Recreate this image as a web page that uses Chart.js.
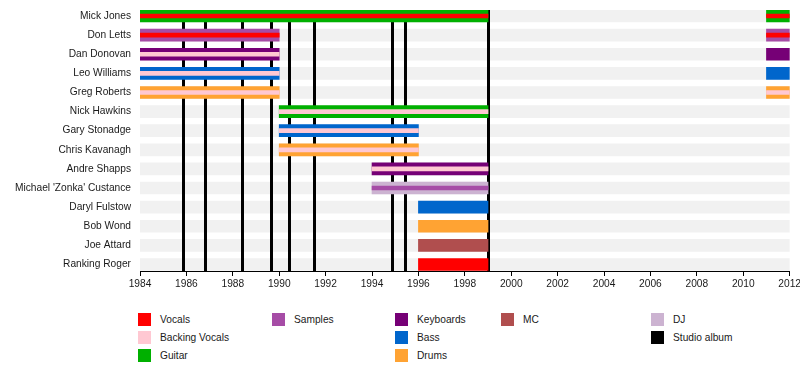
<!DOCTYPE html>
<html lang="en">
<head>
<meta charset="UTF-8">
<title>Big Audio Dynamite timeline</title>
<script src="https://cdn.jsdelivr.net/npm/chart.js@4/dist/chart.umd.min.js"></script>
<style>
  html, body { margin: 0; padding: 0; background: #fff; overflow: hidden; }
  body { font-family: "Liberation Sans", Arial, Helvetica, sans-serif; width: 800px; height: 365px; position: relative; }
  #wrap { position: absolute; left: 0; top: 0; width: 803px; height: 290px; }
  .legend { position: absolute; left: 0; top: 0; font-size: 10.2px; color: #1a1a1a; }
  .legend .item { position: absolute; white-space: nowrap; height: 13px; line-height: 13px; }
  .legend .sw { position: absolute; left: 0; top: 0; width: 13px; height: 13px; }
  .legend .lbl { position: absolute; left: 22px; top: 0; }
</style>
</head>
<body>
<div id="wrap"><canvas id="timeline" width="803" height="290"></canvas></div>
<div class="legend" id="legend"></div>

<script>
// band members, top to bottom
var members = ["Mick Jones", "Don Letts", "Dan Donovan", "Leo Williams", "Greg Roberts",
  "Nick Hawkins", "Gary Stonadge", "Chris Kavanagh", "Andre Shapps",
  "Michael 'Zonka' Custance", "Daryl Fulstow", "Bob Wond", "Joe Attard", "Ranking Roger"];

// roles and their colours
var roles = ["Vocals", "Backing Vocals", "Guitar", "Samples", "Keyboards", "Bass", "Drums", "MC", "DJ"];
var roleColors = ["#ff0000", "#ffc8d2", "#00b000", "#a64ca6", "#760076", "#0066cc", "#ffa333", "#b04e4e", "#ccb3d1"];

// periods: member index, start, end, main role, secondary role (inner stripe)
var spanMember = [0, 0, 1, 1, 2, 2, 3, 3, 4, 4, 5, 6, 7, 8, 9, 10, 11, 12, 13];
var spanStart  = [1984, 2011, 1984, 2011, 1984, 2011, 1984, 2011, 1984, 2011, 1990, 1990, 1990, 1994, 1994, 1996, 1996, 1996, 1996];
var spanEnd    = [1999, 2012, 1990, 2012, 1990, 2012, 1990, 2012, 1990, 2012, 1999, 1996, 1996, 1999, 1999, 1999, 1999, 1999, 1999];
var spanMain   = ["Guitar", "Guitar", "Samples", "Samples", "Keyboards", "Keyboards", "Bass", "Bass", "Drums", "Drums",
  "Guitar", "Bass", "Drums", "Keyboards", "DJ", "Bass", "Drums", "MC", "Vocals"];
var spanInner  = ["Vocals", "Vocals", "Vocals", "Vocals", "Backing Vocals", null, "Backing Vocals", null, "Backing Vocals", "Backing Vocals",
  "Backing Vocals", "Backing Vocals", "Backing Vocals", "Backing Vocals", "Samples", null, null, null, null];

// studio album release dates
var albumYears = [1985.84, 1986.81, 1988.41, 1989.65, 1990.43, 1991.51, 1994.84, 1995.43, 1999.0];

var yearMin = 1984, yearMax = 2012;

var FONT = { family: '"Liberation Sans", Arial, Helvetica, sans-serif', size: 10.2 };

function colorOf(role) { return roleColors[roles.indexOf(role)]; }

// build datasets
var datasets = [];
// grey row bands
datasets.push({
  label: "rows",
  data: members.map(function (m, i) { return { x: [yearMin, yearMax], y: i }; }),
  backgroundColor: "#f1f1f1",
  barThickness: 12,
  grouped: false,
  order: 10
});
roles.forEach(function (role) {
  var outer = [], inner = [];
  for (var i = 0; i < spanMember.length; i++) {
    if (spanMain[i] === role) outer.push({ x: [spanStart[i], spanEnd[i]], y: spanMember[i] });
    if (spanInner[i] === role) inner.push({ x: [spanStart[i], spanEnd[i]], y: spanMember[i] });
  }
  if (outer.length) datasets.push({ label: role, data: outer, backgroundColor: colorOf(role), barThickness: 12, grouped: false, order: 5 });
  if (inner.length) datasets.push({ label: role + " (2nd)", data: inner, backgroundColor: colorOf(role), barThickness: 4, grouped: false, order: 1 });
});

// album lines go over the grey bands but under the bars
var albumLines = {
  id: "albumLines",
  afterDatasetDraw: function (chart, args) {
    if (args.index !== 0) return;
    var ctx = chart.ctx, x = chart.scales.x, a = chart.chartArea;
    ctx.save();
    ctx.strokeStyle = "#000";
    ctx.lineWidth = 3;
    albumYears.forEach(function (yr) {
      var px = Math.round(x.getPixelForValue(yr)) + 0.5;
      ctx.beginPath();
      ctx.moveTo(px, a.top);
      ctx.lineTo(px, a.bottom);
      ctx.stroke();
    });
    ctx.restore();
  }
};

new Chart(document.getElementById("timeline").getContext("2d"), {
  type: "bar",
  data: { datasets: datasets },
  plugins: [albumLines],
  options: {
    indexAxis: "y",
    responsive: false,
    animation: false,
    layout: { padding: { top: 10, right: 13, left: 0, bottom: 0 } },
    plugins: { legend: { display: false }, tooltip: { enabled: false } },
    scales: {
      x: {
        type: "linear",
        min: yearMin,
        max: yearMax,
        ticks: {
          stepSize: 2, autoSkip: false, maxRotation: 0, padding: 2,
          font: FONT, color: "#1a1a1a",
          callback: function (v) { return String(v); }
        },
        grid: { drawOnChartArea: false, drawTicks: true, tickLength: 5, color: "#000" },
        border: { color: "#000", width: 1 },
        afterFit: function (s) { s.height = 19; }
      },
      y: {
        type: "linear",
        reverse: true,
        offset: false,
        bounds: "data",
        min: -0.314,
        max: 13.34,
        afterBuildTicks: function (s) { s.ticks = members.map(function (m, i) { return { value: i }; }); },
        ticks: {
          padding: 0, font: FONT, color: "#1a1a1a",
          callback: function (v) { return members[v]; }
        },
        grid: { display: false, drawTicks: true, tickLength: 9 },
        border: { display: false },
        afterFit: function (s) { s.width = 140; }
      }
    }
  }
});

// legend, laid out in columns
var legendColumns = [
  ["Vocals", "Backing Vocals", "Guitar"],
  ["Samples"],
  ["Keyboards", "Bass", "Drums"],
  ["MC"],
  ["DJ", "Studio album"]
];
var legendColLeft = [138, 272, 395, 501, 651];
var legendTop = 313, legendRowStep = 18;

var leg = document.getElementById("legend");
legendColumns.forEach(function (col, c) {
  col.forEach(function (name, r) {
    var item = document.createElement("div");
    item.className = "item";
    item.style.left = legendColLeft[c] + "px";
    item.style.top = (legendTop + r * legendRowStep) + "px";
    var sw = document.createElement("span");
    sw.className = "sw";
    sw.style.background = name === "Studio album" ? "#000" : colorOf(name);
    var lbl = document.createElement("span");
    lbl.className = "lbl";
    lbl.textContent = name;
    item.appendChild(sw);
    item.appendChild(lbl);
    leg.appendChild(item);
  });
});
</script>
</body>
</html>
